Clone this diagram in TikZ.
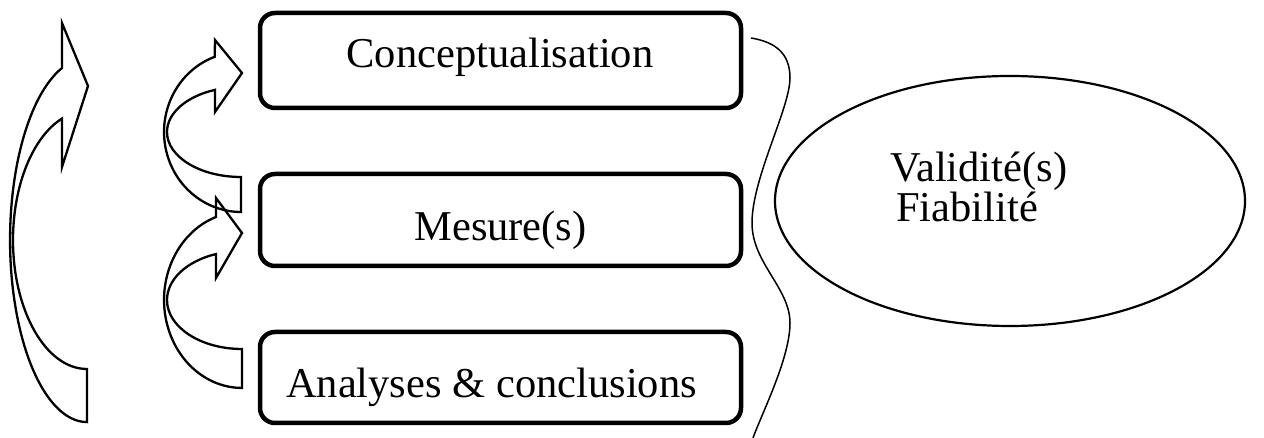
\documentclass[tikz,border=0pt]{standalone}
\usepackage{fontspec}
\setmainfont{Liberation Serif}
\usepackage{tikz}
\usetikzlibrary{shapes.geometric}

\begin{document}
\begin{tikzpicture}[x=1pt, y=1pt,
		stagebox/.style={draw, line width=4.5pt, rounded corners=15pt, minimum width=481pt},
		txt/.style={font=\fontsize{42.5}{48}\selectfont, inner sep=0pt},
		bent/.style={draw, line width=2.3pt, line join=miter}]
	\useasboundingbox (0,0) rectangle (1264,438);
	% the three stages
	\foreach \n/\y/\h in {conc/377.5/95, mes/218/92, ana/60.5/91}
		\node[stagebox, minimum height=\h pt] (\n) at (500.5,\y) {};
	\node[txt, anchor=base] (concT) at (500,370) {Conceptualisation};
	\node[txt, anchor=base] (mesT) at (500.5,197) {Mesure(s)};
	\node[txt, anchor=base] (anaT) at (491.5,40) {Analyses \& conclusions};

	% curved block arrows
	\draw[bent] (87,69) arc[start angle=270, end angle=109.7, x radius=74, y radius=129]
		-- (62,271) -- (88,352) -- (62,415) -- (62,370)
		arc[start angle=109, end angle=270, x radius=77, y radius=182] -- cycle;
	\draw[bent] (241,261) arc[start angle=270, end angle=110.5, x radius=74, y radius=45]
		-- (215,326) -- (242,365) -- (215,398) -- (214.7,381.2)
		arc[start angle=110, end angle=270, x radius=77, y radius=80] -- cycle;
	\draw[bent] (242,89) arc[start angle=270, end angle=110.3, x radius=75, y radius=49]
		-- (216,160) -- (242,205) -- (216,240) -- (216,221)
		arc[start angle=109.5, end angle=270, x radius=78, y radius=88] -- cycle;

	% brace and qualities
	\draw[line width=1.5pt] (751,400) .. controls (775,396) and (790,385) .. (790,360)
		.. controls (790,330) and (752,260) .. (752,215)
		.. controls (752,175) and (790,150) .. (790,115)
		.. controls (790,80) and (762,25) .. (753,0);
	\node[draw, ellipse, line width=2.2pt, minimum width=470pt, minimum height=250pt] (qual) at (1010,237) {};
	\node[txt, anchor=base west] (valT) at (890,256) {Validité(s)};
	\node[txt, anchor=base west] (fiaT) at (896,216) {Fiabilité};
\end{tikzpicture}
\end{document}
